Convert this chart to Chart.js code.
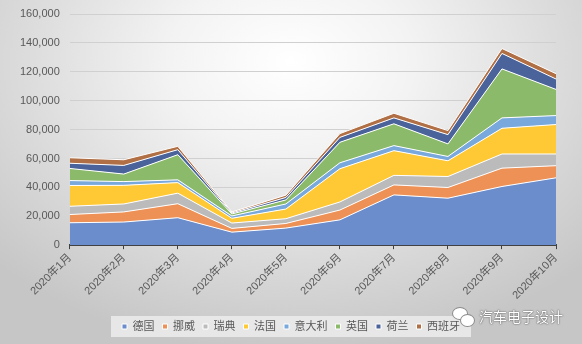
<!DOCTYPE html>
<html>
<head>
<meta charset="utf-8">
<script src="https://cdn.jsdelivr.net/npm/chart.js@4/dist/chart.umd.min.js"></script>
<style>
html,body{margin:0;padding:0;}
body{width:582px;height:344px;overflow:hidden;position:relative;
background:radial-gradient(ellipse 70% 85% at 50% 18%, #ffffff 0%, #f3f3f3 30%, #dcdcdc 65%, #c6c6c6 100%);}
#wrap{position:absolute;left:0;top:0;width:582px;height:344px;}
#wm{position:absolute;left:479px;top:306px;font-family:'Noto Sans CJK SC',sans-serif;font-size:14px;color:#ffffff;
text-shadow:0 0 1px #444,0 0 2px #666;white-space:nowrap;}
.bub{position:absolute;background:#fff;border:1px solid #8a8a8a;border-radius:50%;}
</style>
</head>
<body>
<div id="wrap"><canvas id="c" width="582" height="344"></canvas></div>
<div class="bub" style="left:452px;top:307px;width:14px;height:11px;"></div>
<div class="bub" style="left:460px;top:314px;width:13px;height:11px;"></div>
<div id="wm">汽车电子设计</div>
<script>
const months = ['2020年1月','2020年2月','2020年3月','2020年4月','2020年5月','2020年6月','2020年7月','2020年8月','2020年9月','2020年10月'];
const germany = [15500, 16000, 19000, 9000, 11800, 17500, 34800, 32500, 40600, 46600];
const norway  = [5700, 7000, 9700, 2600, 3200, 6800, 6900, 7400, 12700, 8400];
const sweden  = [5700, 5500, 7300, 3700, 3300, 5600, 6600, 7600, 9800, 8100];
const france  = [14400, 12900, 7300, 3300, 6700, 23000, 17100, 10900, 17800, 20400];
const italy   = [3400, 2600, 1900, 1600, 3500, 4100, 3500, 3000, 7200, 6200];
const uk      = [8400, 5200, 17400, 1400, 2800, 14200, 15100, 8700, 33900, 18100];
const netherlands = [3600, 6000, 3500, 700, 1700, 3400, 4100, 6400, 10700, 7200];
const spain   = [3800, 3900, 2300, 700, 1600, 2600, 3200, 2800, 3400, 3700];
const seriesNames = ['德国','挪威','瑞典','法国','意大利','英国','荷兰','西班牙'];
const seriesData = [germany, norway, sweden, france, italy, uk, netherlands, spain];
const colors = ['#6B8DCB','#EE9157','#BBBBBB','#FFC935','#79A9DC','#8BBB6A','#4A639A','#B06F45'];
const yTicks = [0,20000,40000,60000,80000,100000,120000,140000,160000];

const FONT = "'Liberation Sans','Noto Sans CJK SC',sans-serif";

const legendBg = {
  id:'legendBg',
  beforeDraw(chart){
    const lg = chart.legend;
    if(!lg || !lg.legendHitBoxes || !lg.legendHitBoxes.length) return;
    let l=Infinity,r=-Infinity,t=Infinity,b=-Infinity;
    lg.legendHitBoxes.forEach(h=>{l=Math.min(l,h.left);r=Math.max(r,h.left+h.width);t=Math.min(t,h.top);b=Math.max(b,h.top+h.height);});
    const ctx=chart.ctx;
    ctx.save();
    ctx.fillStyle='rgba(236,236,236,0.85)';
    ctx.fillRect(l-11,t-5,r-l+22,b-t+10);
    ctx.restore();
  }
};

new Chart(document.getElementById('c'),{
  type:'line',
  data:{
    labels:months,
    datasets:seriesNames.map((n,i)=>({
      label:n,
      data:seriesData[i],
      backgroundColor:colors[i],
      borderColor:'#ffffff',
      borderWidth:1,
      pointRadius:0,
      tension:0,
      fill: i===0 ? 'origin' : '-1'
    }))
  },
  options:{
    responsive:false,
    animation:false,
    layout:{padding:{left:0,right:0,top:14,bottom:2}},
    plugins:{
      legend:{
        position:'bottom',
        labels:{boxWidth:5,boxHeight:5,padding:8,color:'#595959',font:{family:FONT,size:11}}
      },
      tooltip:{enabled:false}
    },
    scales:{
      x:{
        offset:false,
        afterFit(s){ s.paddingLeft = 0; s.paddingRight = 26; s.height = s.height + 9; },
        grid:{display:true,drawOnChartArea:false,drawTicks:true,tickLength:4,color:'#404040',lineWidth:1},
        border:{display:true,color:'#404040',width:2},
        ticks:{color:'#595959',font:{family:FONT,size:11},maxRotation:45,minRotation:45,padding:2,autoSkip:false}
      },
      y:{
        stacked:true,
        min:0,max:160000,
        afterBuildTicks(s){ s.ticks = yTicks.map(v=>({value:v})); },
        afterFit(s){ s.width = s.width + 10; s.paddingTop = 0; s.paddingBottom = 0; },
        grid:{color:'#d0d0d0',lineWidth:1,drawTicks:false},
        border:{display:false},
        ticks:{color:'#595959',font:{family:FONT,size:11},padding:10,
          callback:v=>v.toLocaleString('en-US')}
      }
    }
  },
  plugins:[legendBg]
});
</script>
</body>
</html>
